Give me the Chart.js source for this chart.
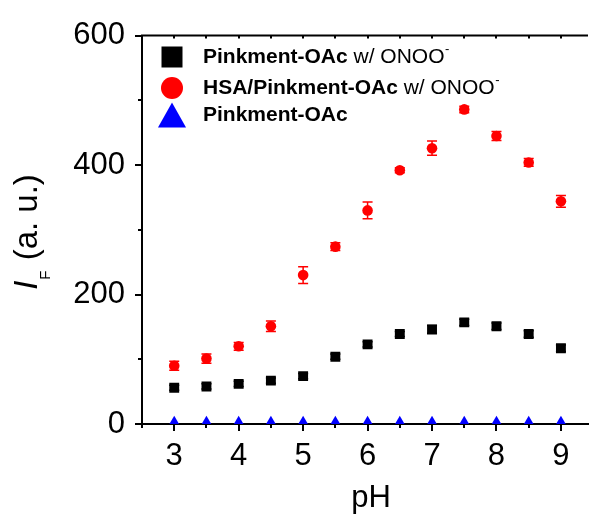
<!DOCTYPE html>
<html>
<head>
<meta charset="utf-8">
<script src="https://cdn.jsdelivr.net/npm/chart.js@4.4.1/dist/chart.umd.min.js"></script>
<style>
  html, body { margin: 0; padding: 0; background: #fff; }
  #wrap { width: 595px; height: 516px; }
</style>
</head>
<body>
<div id="wrap"><canvas id="phChart" width="595" height="516"></canvas></div>
<script>
// pH series
const phValues = [3, 3.5, 4, 4.5, 5, 5.5, 6, 6.5, 7, 7.5, 8, 8.5, 9];
const xTickValues = [3, 4, 5, 6, 7, 8, 9];
const yTickValues = [0, 200, 400, 600];

// Pinkment-OAc w/ ONOO-
const probeOnoo = [56, 58, 62, 67, 74, 104, 123, 139, 146, 157, 151, 139, 117];
const probeOnooErr = [4, 4, 4, 4, 4, 4, 4, 4, 6, 5, 5, 5, 5];
// HSA/Pinkment-OAc w/ ONOO-
const hsaOnoo = [90, 101, 120, 151, 230, 274, 330, 392, 426, 486, 445, 404, 344];
const hsaOnooErr = [7, 7, 6, 8, 13, 6, 13, 4, 11, 5, 7, 6, 9];
// Pinkment-OAc only
const probeOnly = [3, 3, 3, 3, 3, 3, 3, 3, 3, 3, 3, 3, 3];

const legendRows = [
  { bold: 'Pinkment-OAc', normal: ' w/ ONOO', sup: '-', style: 'rect', color: '#000000' },
  { bold: 'HSA/Pinkment-OAc', normal: ' w/ ONOO', sup: '-', style: 'circle', color: '#ff0000' },
  { bold: 'Pinkment-OAc', normal: '', sup: '', style: 'triangle', color: '#0000ff' }
];

const FONT = "'Liberation Sans', Arial, sans-serif";

function toPoints(ys) {
  return phValues.map((x, i) => ({ x: x, y: ys[i] }));
}

function drawMarker(ctx, style, x, y, size, color) {
  ctx.save();
  ctx.fillStyle = color;
  ctx.beginPath();
  if (style === 'rect') {
    ctx.rect(x - size / 2, y - size / 2, size, size);
  } else if (style === 'circle') {
    ctx.arc(x, y, size / 2, 0, Math.PI * 2);
  } else {
    ctx.moveTo(x, y - size * 0.45);
    ctx.lineTo(x + size * 0.5, y + size * 0.45);
    ctx.lineTo(x - size * 0.5, y + size * 0.45);
    ctx.closePath();
  }
  ctx.fill();
  ctx.restore();
}

// error bars from the err arrays, through the scales
const errorBars = {
  id: 'errorBars',
  beforeDatasetsDraw(chart) {
    const ctx = chart.ctx;
    const xs = chart.scales.x, ys = chart.scales.y;
    chart.data.datasets.forEach(ds => {
      if (!ds.errors) return;
      ctx.save();
      ctx.strokeStyle = ds.backgroundColor;
      ctx.lineWidth = 1.5;
      phValues.forEach((ph, i) => {
        const px = xs.getPixelForValue(ph);
        const top = ys.getPixelForValue(ds.data[i].y + ds.errors[i]);
        const bot = ys.getPixelForValue(ds.data[i].y - ds.errors[i]);
        ctx.beginPath();
        ctx.moveTo(px, top); ctx.lineTo(px, bot);
        ctx.moveTo(px - 5, top); ctx.lineTo(px + 5, top);
        ctx.moveTo(px - 5, bot); ctx.lineTo(px + 5, bot);
        ctx.stroke();
      });
      ctx.restore();
    });
  }
};

// tick marks, top frame, titles and legend
const decorations = {
  id: 'decorations',
  afterDraw(chart) {
    const ctx = chart.ctx;
    const area = chart.chartArea;
    const xs = chart.scales.x, ys = chart.scales.y;
    ctx.save();
    ctx.strokeStyle = '#000';
    ctx.lineWidth = 2;

    // top frame line
    ctx.beginPath();
    ctx.moveTo(area.left - 1, area.top);
    ctx.lineTo(area.right, area.top);
    ctx.stroke();

    // x ticks (bottom outward, top inward)
    ctx.beginPath();
    for (let v = 2.5; v <= xs.max + 0.001; v += 0.5) {
      const px = Math.round(xs.getPixelForValue(v));
      const major = Math.abs(v - Math.round(v)) < 0.01;
      ctx.moveTo(px, area.bottom);
      ctx.lineTo(px, area.bottom + (major ? 7 : 4));
      ctx.moveTo(px, area.top);
      ctx.lineTo(px, area.top + 3);
    }
    // y ticks (left outward)
    for (let v = 0; v <= 600; v += 100) {
      const py = Math.round(ys.getPixelForValue(v));
      const major = v % 200 === 0;
      ctx.moveTo(area.left, py);
      ctx.lineTo(area.left - (major ? 7 : 4), py);
    }
    ctx.stroke();

    // x title
    ctx.fillStyle = '#000';
    ctx.font = '31px ' + FONT;
    ctx.textAlign = 'center';
    ctx.textBaseline = 'alphabetic';
    ctx.fillText('pH', 371, 507);

    // y title: I_F (a. u.)
    ctx.save();
    ctx.translate(37, 232);
    ctx.rotate(-Math.PI / 2);
    ctx.textAlign = 'left';
    const fMain = '33px ' + FONT;
    const fItal = 'italic 33px ' + FONT;
    const fSub = '15px ' + FONT;
    ctx.font = fItal; const wI = ctx.measureText('I').width;
    ctx.font = fSub; const wF = ctx.measureText('F').width;
    ctx.font = fMain; const wRest = ctx.measureText(' (a. u.)').width;
    let cx = -(wI + wF + 2 + wRest) / 2;
    ctx.font = fItal; ctx.fillText('I', cx, 0); cx += wI + 1;
    ctx.font = fSub; ctx.fillText('F', cx, 13); cx += wF + 1;
    ctx.font = fMain; ctx.fillText(' (a. u.)', cx, 0);
    ctx.restore();

    // legend
    const rowY = [57, 88, 115];
    legendRows.forEach((row, i) => {
      const y = rowY[i];
      const size = row.style === 'rect' ? 21 : (row.style === 'circle' ? 22 : 28);
      drawMarker(ctx, row.style, 172, y, size, row.color);
      let tx = 203;
      ctx.textAlign = 'left';
      ctx.textBaseline = 'middle';
      ctx.font = 'bold 21px ' + FONT;
      ctx.fillText(row.bold, tx, y);
      tx += ctx.measureText(row.bold).width;
      if (row.normal) {
        ctx.font = '21px ' + FONT;
        ctx.fillText(row.normal, tx, y);
        tx += ctx.measureText(row.normal).width;
        ctx.font = '13px ' + FONT;
        ctx.fillText(row.sup, tx + 0.5, y - 8);
      }
    });
    ctx.restore();
  }
};

new Chart(document.getElementById('phChart'), {
  type: 'scatter',
  data: {
    datasets: [
      {
        label: 'Pinkment-OAc w/ ONOO-',
        data: toPoints(probeOnoo),
        errors: probeOnooErr,
        pointStyle: 'rect',
        pointRadius: 7,
        backgroundColor: '#000000',
        borderWidth: 0
      },
      {
        label: 'HSA/Pinkment-OAc w/ ONOO-',
        data: toPoints(hsaOnoo),
        errors: hsaOnooErr,
        pointStyle: 'circle',
        pointRadius: 5.3,
        backgroundColor: '#ff0000',
        borderWidth: 0
      },
      {
        label: 'Pinkment-OAc',
        data: toPoints(probeOnly),
        pointStyle: 'triangle',
        pointRadius: 6.4,
        backgroundColor: '#0000ff',
        borderWidth: 0
      }
    ]
  },
  options: {
    responsive: false,
    animation: false,
    layout: { padding: { top: 34, right: 0, left: 0, bottom: 0 } },
    plugins: {
      legend: { display: false },
      tooltip: { enabled: false }
    },
    scales: {
      x: {
        type: 'linear',
        min: 2.5,
        max: 9.42,
        afterBuildTicks: s => { s.ticks = xTickValues.map(v => ({ value: v })); },
        afterFit: s => { s.height = 92; },
        grid: { display: false, drawTicks: false },
        border: { display: true, color: '#000', width: 2 },
        ticks: {
          color: '#000',
          font: { family: FONT, size: 31 },
          padding: 14,
          maxRotation: 0,
          autoSkip: false
        }
      },
      y: {
        min: 0,
        max: 600,
        afterBuildTicks: s => { s.ticks = yTickValues.map(v => ({ value: v })); },
        afterFit: s => { s.width = 142; },
        grid: { display: false, drawTicks: false },
        border: { display: true, color: '#000', width: 2 },
        ticks: {
          color: '#000',
          font: { family: FONT, size: 31 },
          padding: 17
        }
      }
    }
  },
  plugins: [errorBars, decorations]
});
</script>
</body>
</html>
